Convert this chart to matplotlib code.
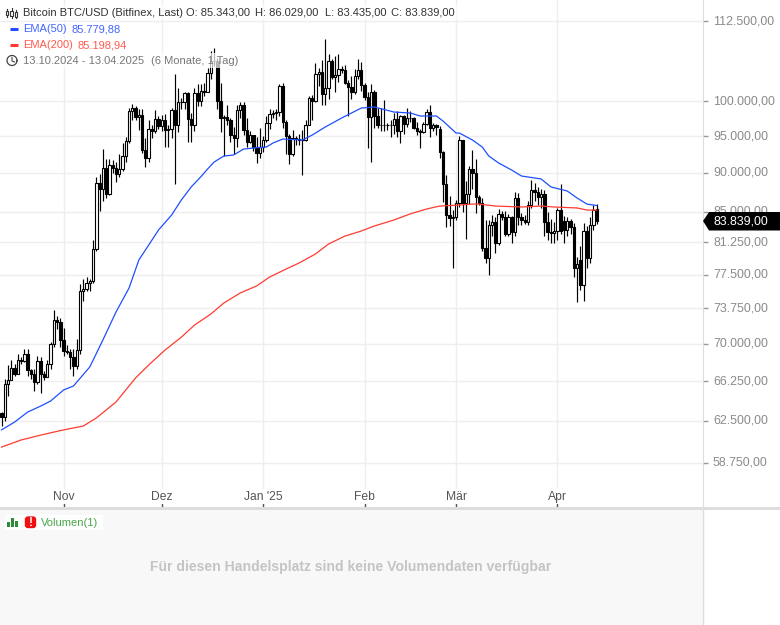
import numpy as np
import matplotlib
matplotlib.use('Agg')
import matplotlib.pyplot as plt
from matplotlib.patches import Polygon, FancyBboxPatch, Rectangle

plt.rcParams['font.family'] = ['Liberation Sans', 'DejaVu Sans']

# daily candles 13.10.2024 - 13.04.2025, day 0 = 13 Oct
opens = [
    63200, 62850, 66000, 66400, 67600, 67000, 68350, 68250, 69000, 67400, 67000, 66200, 68300, 67000, 66700, 68000, 70000, 72500, 72300,
    70400, 69300, 69200, 68700, 67800, 69400, 75600, 75900, 76500, 76800, 80450, 88700, 87950, 90600, 87250, 91050, 90600, 89850, 90550, 92300, 94300, 98500, 99000, 97750, 98000, 93100, 92000, 95950, 95650, 97450,
    96450, 97250, 95850, 96000, 98750, 96600, 99900, 99900, 101150, 97350, 96600, 101150, 100050, 101450, 101350, 104300, 106050, 106150, 100050, 97500, 97750, 97200, 95100, 94700, 98700, 99400, 95800, 94150, 95150, 93550, 92650,
    93450, 94400, 96900, 98100, 98250, 98350, 102250, 96950, 95050, 92550, 94700, 94550, 94500, 94500, 96550, 100500, 100000, 104100, 104450, 101100, 102000, 106150, 103650, 103950, 104800, 104650, 102700, 102100, 101300, 103700, 104750,
    102400, 100650, 97700, 101400, 97850, 96600, 96600, 96550, 96500, 96500, 97400, 95750, 97850, 96650, 97500, 97550, 96100, 95750, 95550, 96650, 98350, 96150, 96600, 95970, 92800, 88500, 84600, 84250,
    84400, 86050, 94500, 86100, 87250, 90500, 90000, 86800, 86100, 80600, 79400, 83300, 83700, 81200, 84700, 84400, 82200, 84300, 82500, 86700, 84300, 83950, 83700, 85800, 87700, 87500, 86900, 87200, 83700, 82500, 82400,
    82600, 85200, 83900, 82700, 83900, 83100, 78200, 79200, 76300, 82600, 79400, 83300, 85343]
highs = [
    63300, 66500, 67900, 68400, 68000, 68950, 68650, 69450, 69500, 67500, 67500, 68800, 68700, 67300, 68350, 70200, 73600, 72900, 72700,
    71600, 69900, 69450, 69500, 70500, 76400, 77000, 77200, 77000, 81500, 89500, 89900, 93200, 91800, 91800, 91700, 91500, 92500, 94000, 94800, 99000, 99600, 99300, 98800, 98900, 94700, 97300, 96600, 98700, 97800,
    98000, 98100, 96600, 99000, 104000, 101900, 100500, 101300, 101300, 98300, 101900, 102500, 102600, 102700, 105000, 107700, 108200, 106500, 102700, 98000, 99500, 97600, 96300, 99400, 99900, 99900, 97500, 95700, 95200, 94900, 96100,
    95000, 97800, 98900, 98700, 98800, 102500, 102700, 97200, 95300, 95800, 95000, 95300, 95900, 97300, 100700, 100900, 105800, 105000, 106300, 109500, 107200, 106400, 106800, 107100, 105300, 105400, 103200, 103700, 104800, 106400, 106000,
    102700, 101400, 102500, 101700, 99000, 99000, 100100, 96900, 97300, 98300, 98500, 98000, 98000, 99000, 98500, 97700, 97000, 96000, 97000, 98800, 99500, 96900, 96700, 96400, 92900, 89700, 87000, 85200,
    86500, 95000, 94500, 88900, 90900, 93100, 91900, 87100, 86700, 84000, 84000, 84600, 84300, 85400, 85100, 85100, 84700, 84500, 87500, 87400, 84800, 84600, 86300, 89100, 88700, 88200, 87900, 87800, 85000, 84100, 83700,
    85500, 88500, 84500, 84300, 84100, 83600, 79500, 80800, 83600, 83200, 84300, 85800, 86029]
lows = [
    62050, 62500, 64800, 66800, 66800, 67000, 68000, 68200, 66800, 66500, 65300, 66000, 65100, 66400, 66800, 67500, 69700, 71500, 69700,
    68800, 69000, 67500, 66800, 67500, 69000, 74500, 75600, 75700, 76500, 80200, 85100, 86400, 86700, 87100, 90000, 88800, 89400, 90300, 91500, 94000, 97200, 97200, 95800, 92600, 90800, 91500, 94700, 95400, 96000,
    95700, 93500, 93500, 94700, 88500, 95500, 98800, 98800, 94200, 94200, 95700, 99300, 99300, 100700, 101300, 103300, 105300, 98800, 95600, 92200, 96500, 94200, 92500, 93500, 97600, 95200, 93500, 94000, 92900, 91300, 92000,
    92800, 94200, 96000, 97500, 97300, 97900, 96100, 92500, 91200, 92200, 93800, 93700, 89700, 94300, 96500, 97300, 99900, 102300, 99500, 99500, 100300, 103300, 101300, 102800, 104200, 102500, 97800, 100300, 101000, 103300, 101500,
    100200, 93300, 91400, 96200, 96200, 95700, 95700, 95900, 94800, 95300, 94900, 94000, 95300, 96300, 97000, 96000, 95200, 93400, 95400, 96500, 94800, 95700, 95200, 92000, 86200, 83100, 83200, 78300,
    84000, 85600, 85000, 81700, 86000, 87900, 84900, 85900, 80200, 78800, 77400, 82000, 80000, 81000, 84000, 82000, 82000, 81200, 82000, 83300, 83300, 83500, 83400, 85500, 86300, 85900, 85500, 82000, 81500, 81200, 81200,
    81500, 82200, 81200, 82000, 82300, 77200, 74400, 75800, 74500, 78300, 78800, 82800, 83435]
closes = [
    62850, 66000, 66400, 67600, 67000, 68350, 68250, 69000, 67400, 67000, 66200, 68300, 67000, 66700, 68000, 70000, 72500, 72300, 70400,
    69300, 69200, 68700, 67800, 69400, 75600, 75900, 76500, 76800, 80450, 88700, 87950, 90600, 87250, 91050, 90600, 89850, 90550, 92300, 94300, 98500, 99000, 97750, 98000, 93100, 92000, 95950, 95650, 97450, 96450,
    97250, 95850, 96000, 98750, 96600, 99900, 99900, 101150, 97350, 96600, 101150, 100050, 101450, 101350, 104300, 106050, 106150, 100050, 97500, 97750, 97200, 95100, 94700, 98700, 99400, 95800, 94150, 95150, 93550, 92650, 93450,
    94400, 96900, 98100, 98250, 98350, 102250, 96950, 95050, 92550, 94700, 94550, 94500, 94500, 96550, 100500, 100000, 104100, 104450, 101100, 102000, 106150, 103650, 103950, 104800, 104650, 102700, 102100, 101300, 103700, 104750, 102400,
    100650, 97700, 101400, 97850, 96600, 96600, 96550, 96500, 96500, 97400, 95750, 97850, 96650, 97500, 97550, 96100, 95750, 95550, 96650, 98350, 96150, 96600, 96250, 92800, 88500, 84600, 84250, 84400,
    86050, 94500, 86100, 87250, 90500, 90000, 86800, 86100, 80600, 79400, 83300, 83700, 81200, 84700, 84400, 82200, 84300, 82500, 86700, 84300, 83950, 83700, 85800, 87700, 87500, 86900, 87200, 83700, 82500, 82400, 82600,
    85200, 82600, 82700, 83900, 83100, 78200, 78700, 76300, 82600, 79400, 83300, 85200, 83839]

ema50_days = [0, 4, 8, 12, 15, 19, 22, 27, 31, 35, 39, 42, 45, 48, 52, 55, 58, 61, 63, 65, 68, 71, 74, 77, 81, 83, 86, 92, 95, 99, 104, 107, 110, 114, 120, 125, 128, 133, 135, 139, 140, 144, 147, 149, 152, 156, 159, 165, 168, 173, 176, 179, 182]
ema50 = [61680, 62390, 63320, 63880, 64350, 65410, 65790, 67660, 70390, 73340, 75980, 79180, 80930, 82740, 84580, 86480, 88150, 89500, 90500, 91440, 92250, 92390, 93200, 93340, 93480, 94030, 94580, 94450, 95140, 96270, 97550, 98270, 98990, 99150, 98410, 98270, 97840, 97840, 97120, 95420, 95420, 94450, 93480, 92250, 91310, 90370, 89580, 89190, 88150, 87620, 86730, 85960, 85780]

ema200_days = [0, 6, 12, 19, 25, 29, 35, 41, 45, 50, 55, 59, 64, 68, 73, 78, 82, 87, 91, 96, 100, 105, 110, 114, 120, 125, 130, 134, 140, 144, 146, 151, 159, 165, 169, 176, 179, 182]
ema200 = [60140, 60770, 61210, 61680, 62030, 62770, 64260, 66570, 67850, 69360, 70690, 71950, 73130, 74330, 75430, 76210, 77220, 78130, 78830, 79880, 81060, 82010, 82620, 83230, 83970, 84730, 85340, 85710, 85840, 85960, 85960, 85710, 85590, 85710, 85590, 85470, 85210, 85199]

price_ticks = [112500, 100000, 95000, 90000, 85000, 81250, 77500, 73750, 70000, 66250, 62500, 58750]
price_labels = ['112.500,00', '100.000,00', '95.000,00', '90.000,00', '85.000,00', '81.250,00', '77.500,00', '73.750,00', '70.000,00', '66.250,00', '62.500,00', '58.750,00']
month_days = [19, 49, 80, 111, 139, 170]
month_labels = ['Nov', 'Dez', "Jan '25", 'Feb', 'Mär', 'Apr']

W, H = 780, 625
fig = plt.figure(figsize=(W / 100, H / 100), dpi=100)

ax = fig.add_axes([0, 1 - 507 / H, 703 / W, 507 / H])
ax.set_yscale('log')
ax.set_xlim(-0.46, 214.5)
ax.set_ylim(55070, 116030)

days = np.arange(len(closes))
o = np.array(opens, dtype=float)
c = np.array(closes, dtype=float)
ax.vlines(days, lows, highs, color='black', lw=0.85, zorder=3)
colors = ['white' if cl >= op else 'black' for op, cl in zip(o, c)]
ax.bar(days, np.abs(c - o), bottom=np.minimum(o, c), width=0.72, color=colors, edgecolor='black', linewidth=0.8, zorder=4)
ax.plot(ema200_days, ema200, color='#ff3b30', lw=0.9, zorder=5)
ax.plot(ema50_days, ema50, color='#1f4fff', lw=0.9, zorder=5)

ax.set_axisbelow(True)
ax.grid(True, which='major', color='#eeeeee', lw=1)
ax.minorticks_off()
ax.yaxis.tick_right()
ax.set_yticks(price_ticks)
ax.set_yticklabels(price_labels, va='center')
ax.yaxis.set_minor_locator(matplotlib.ticker.NullLocator())
ax.tick_params(axis='y', direction='out', length=3.6, width=1, color='#999999', labelcolor='#8a8a8a', labelsize=8.9, pad=3.6)
ax.set_xticks(month_days)
ax.set_xticklabels(month_labels)
ax.tick_params(axis='x', direction='in', length=4, width=1, color='#555555', labelcolor='#555555', labelsize=8.7, pad=-11.8)
for lb in ax.get_xticklabels():
    lb.set_bbox(dict(facecolor='white', edgecolor='none', pad=1))
for s in ['top', 'left', 'bottom']:
    ax.spines[s].set_visible(False)
ax.spines['right'].set_color('#dddddd')

# overlay in pixel coordinates for legend, price tag and volume pane
ov = fig.add_axes([0, 0, 1, 1], zorder=10)
ov.set_xlim(0, W)
ov.set_ylim(H, 0)
ov.axis('off')
ov.patch.set_alpha(0)

ov.add_patch(Rectangle((0, 507), W, 3, color='#dddddd', lw=0))
ov.add_patch(Rectangle((0, 510), 703, 115, color='#f8f8f8', lw=0))
ov.plot([703, 703], [510, 625], color='#dddddd', lw=1)

white_bg = dict(facecolor='white', edgecolor='none', alpha=0.7, pad=1.5)
ov.text(23, 12.5, 'Bitcoin BTC/USD (Bitfinex, Last)', fontsize=8.05, color='#333333', va='center', bbox=white_bg)
ov.text(186, 12.5, 'O: 85.343,00', fontsize=8.05, color='#333333', va='center', bbox=white_bg)
ov.text(255, 12.5, 'H: 86.029,00', fontsize=8.05, color='#333333', va='center', bbox=white_bg)
ov.text(325, 12.5, 'L: 83.435,00', fontsize=8.05, color='#333333', va='center', bbox=white_bg)
ov.text(391, 12.5, 'C: 83.839,00', fontsize=8.05, color='#333333', va='center', bbox=white_bg)
ov.text(23, 29, 'EMA(50)', fontsize=8.05, color='#4466ff', va='center', bbox=white_bg)
ov.text(72, 29, '85.779,88', fontsize=8.05, color='#4466ff', va='center', bbox=white_bg)
ov.text(23, 45, 'EMA(200)', fontsize=8.05, color='#ff5a50', va='center', bbox=white_bg)
ov.text(78, 45, '85.198,94', fontsize=8.05, color='#ff5a50', va='center', bbox=white_bg)
ov.text(23, 60.5, '13.10.2024 - 13.04.2025', fontsize=8.05, color='#777777', va='center', bbox=white_bg)
ov.text(151, 60.5, '(6 Monate, 1 Tag)', fontsize=8.05, color='#777777', va='center', bbox=white_bg)

# candle icon
for x, y0, y1, b0, b1 in [(7, 9, 17, 10.5, 15), (11.5, 8, 18, 11, 16), (16, 10, 18, 12, 16.5)]:
    ov.plot([x, x], [y0, y1], color='#333333', lw=0.8)
    ov.add_patch(Rectangle((x - 1.3, b0), 2.6, b1 - b0, fc='white', ec='#333333', lw=0.8, zorder=3))
ov.plot([9.5, 17.5], [29, 29], color='#1f4fff', lw=2.2, solid_capstyle='butt')
ov.plot([9.5, 17.5], [45, 45], color='#ff3b30', lw=2.2, solid_capstyle='butt')
# clock icon
ov.plot(12 + 5 * np.cos(np.linspace(0, 6.3, 40)), 60.5 + 5 * np.sin(np.linspace(0, 6.3, 40)), color='#444444', lw=0.9)
ov.plot([12, 12, 14.5], [57.5, 61, 62], color='#444444', lw=0.8)

# last price tag
ov.add_patch(Polygon([(703, 221), (709, 212), (780, 212), (780, 230.5), (709, 230.5)], closed=True, fc='black', ec='none'))
ov.text(713, 221.5, '83.839,00', fontsize=8.9, color='white', va='center')

# volume pane
ov.add_patch(Rectangle((5, 515), 98, 15, fc='white', ec='none', alpha=0.9))
for x, h in [(7, 5), (11, 9), (15, 6)]:
    ov.add_patch(Rectangle((x, 527 - h), 3, h, fc='#2e8b3a', ec='none'))
ov.add_patch(FancyBboxPatch((25.5, 517), 10, 10.5, boxstyle='round,pad=0,rounding_size=2.5', fc='#f01010', ec='#f01010', lw=1))
ov.text(30.5, 522.5, '!', fontsize=8.5, color='white', ha='center', va='center', fontweight='bold')
ov.text(41, 522.5, 'Volumen(1)', fontsize=8.05, color='#4aa54a', va='center')
ov.text(350.5, 567, 'Für diesen Handelsplatz sind keine Volumendaten verfügbar', fontsize=10.1,
        fontweight='bold', color='#c4c4c4', ha='center', va='center')

fig.savefig('out.png', dpi=100)
